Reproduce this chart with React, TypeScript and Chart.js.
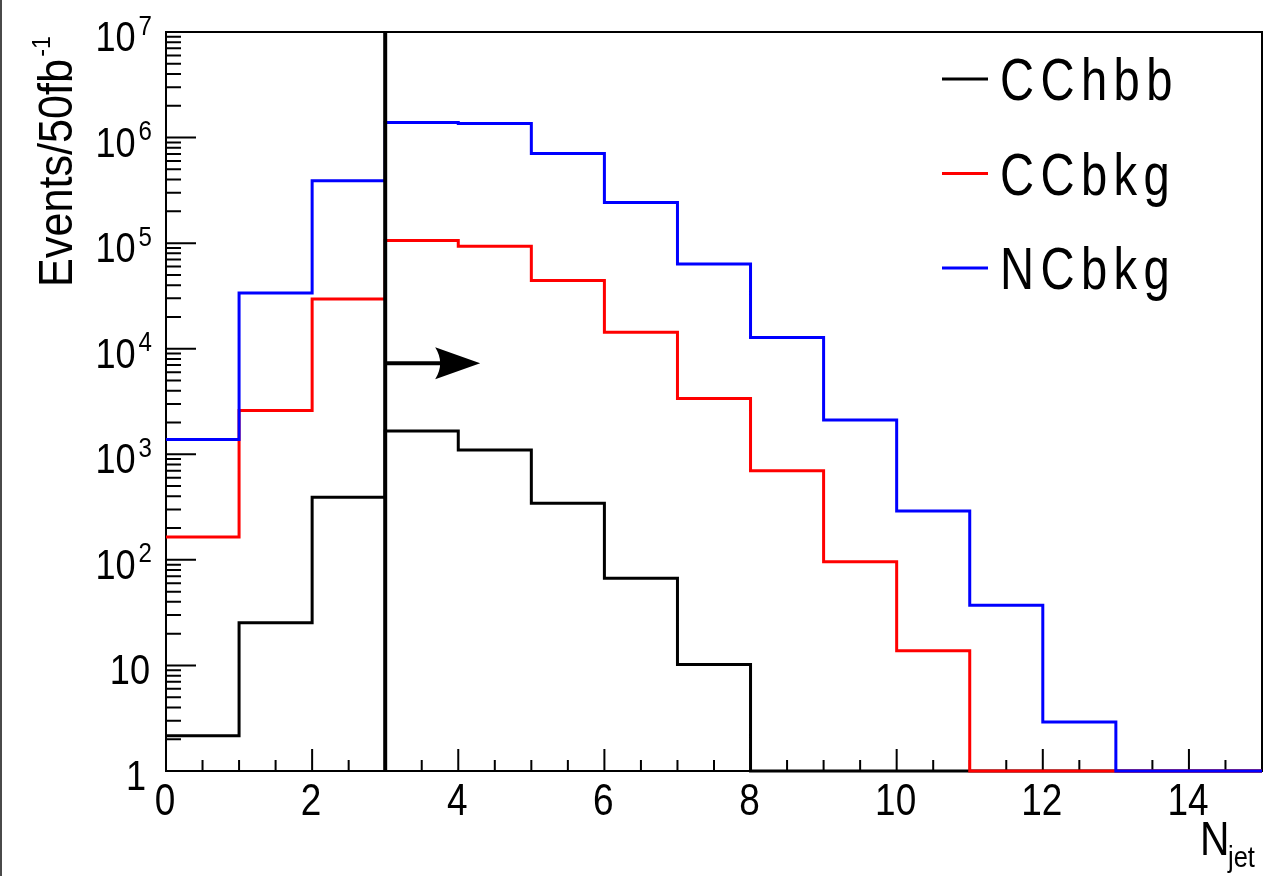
import React, { useEffect, useRef } from 'react';
import { Chart, registerables } from 'chart.js';

Chart.register(...registerables);

// ---- data ----
const binLowEdges = [0, 1, 2, 3, 4, 5, 6, 7, 8, 9, 10, 11, 12, 13, 14];
const X_MAX = 15;
const cchbb = [2.16, 25.4, 391, 1660, 1100, 343, 67, 10.2, 0, 0, 0, 0, 0, 0, 0];
const ccbkg = [165, 2605, 29500, 106000, 93700, 44300, 14300, 3380, 698, 96, 13.8, 0, 0, 0, 0];
const ncbkg = [1384, 33800, 389000, 1390000, 1360000, 707000, 243000, 63300, 12800, 2110, 290, 37.1, 2.91, 0, 0];
const seriesNames = ['CChbb', 'CCbkg', 'NCbkg'];
const seriesColors = ['#000000', '#ff0000', '#0000ff'];
const Y_MIN = 1;
const Y_MAX = 1e7;
const xMajorTicks = [0, 2, 4, 6, 8, 10, 12, 14];
const xMinorStep = 0.5;
const yDecadeExponents = [0, 1, 2, 3, 4, 5, 6, 7];
const yTitle = 'Events/50fb';
const yTitleSup = '-1';
const xTitle = 'N';
const xTitleSub = 'jet';
const CUT_X = 3;
const ARROW_Y = 7300;
const ARROW_END_X = 4.3;

const FONT = '"Liberation Sans", Arial, Helvetica, sans-serif';

function drawText(
  ctx: CanvasRenderingContext2D,
  s: string,
  x: number,
  y: number,
  size: number,
  align: 'left' | 'right' | 'center',
  sx = 0.86,
  spacing = 0
) {
  ctx.save();
  ctx.font = `${size}px ${FONT}`;
  (ctx as any).letterSpacing = `${spacing}px`;
  const w = ctx.measureText(s).width * sx;
  const x0 = align === 'left' ? x : align === 'right' ? x - w : x - w / 2;
  ctx.translate(x0, y);
  ctx.scale(sx, 1);
  ctx.textAlign = 'left';
  ctx.textBaseline = 'alphabetic';
  ctx.fillStyle = '#000';
  ctx.fillText(s, 0, 0);
  ctx.restore();
  return w;
}

const rootStyle = {
  id: 'rootStyle',
  beforeDatasetsDraw(chart: any) {
    const { ctx, chartArea: a, scales } = chart;
    const x = scales.x;
    const y = scales.y;
    ctx.save();
    // image left border
    ctx.fillStyle = '#4a4a4a';
    ctx.fillRect(0, 0, 2, chart.height);

    // frame
    ctx.strokeStyle = '#000';
    ctx.lineWidth = 2;
    ctx.strokeRect(a.left, a.top, a.right - a.left, a.bottom - a.top);

    // x ticks
    ctx.lineWidth = 2;
    ctx.beginPath();
    for (let v = 0; v <= X_MAX + 1e-9; v += xMinorStep) {
      const px = x.getPixelForValue(v);
      const major = xMajorTicks.includes(v);
      const len = major ? 22 : 11;
      ctx.moveTo(px, a.bottom);
      ctx.lineTo(px, a.bottom - len);
    }
    // y ticks
    for (const e of yDecadeExponents) {
      for (let m = 1; m <= 9; m++) {
        const v = m * Math.pow(10, e);
        if (v > Y_MAX * 1.0001) break;
        const py = y.getPixelForValue(v);
        const len = m === 1 ? 30 : 15;
        ctx.moveTo(a.left, py);
        ctx.lineTo(a.left + len, py);
      }
    }
    ctx.stroke();

    // x labels
    for (const v of xMajorTicks) {
      const px = x.getPixelForValue(v);
      drawText(ctx, String(v), px - 1, a.bottom + 44, 44, 'center', 0.84);
    }
    // y labels
    for (const e of yDecadeExponents) {
      const py = y.getPixelForValue(Math.pow(10, e));
      if (e === 0) {
        drawText(ctx, '1', 146, py + 19, 42, 'right', 0.86);
      } else if (e === 1) {
        drawText(ctx, '10', 150, py + 19, 42, 'right', 0.86);
      } else {
        ctx.save();
        ctx.font = `28px ${FONT}`;
        const supW = ctx.measureText(String(e)).width * 0.86;
        ctx.restore();
        const supX = 152 - supW;
        drawText(ctx, String(e), supX, py + 2.5, 28, 'left', 0.86);
        drawText(ctx, '10', supX - 3, py + 19, 42, 'right', 0.86);
      }
    }

    // x title
    drawText(ctx, xTitle, 1200, 855, 48, 'left', 0.85);
    drawText(ctx, xTitleSub, 1228, 867, 30, 'left', 0.85);

    // y title (rotated)
    ctx.save();
    ctx.translate(72, 287);
    ctx.rotate(-Math.PI / 2);
    const w = drawText(ctx, yTitle, 0, 0, 48, 'left', 0.9);
    drawText(ctx, yTitleSup, w + 2, -22, 26, 'left', 0.9);
    ctx.restore();

    ctx.restore();
  },
  afterDatasetsDraw(chart: any) {
    const { ctx, chartArea: a, scales } = chart;
    const x = scales.x;
    const y = scales.y;
    ctx.save();
    // cut line
    const cx = x.getPixelForValue(CUT_X);
    ctx.strokeStyle = '#000';
    ctx.lineWidth = 4;
    ctx.beginPath();
    ctx.moveTo(cx, a.top);
    ctx.lineTo(cx, a.bottom);
    ctx.stroke();

    // arrow
    const ay = y.getPixelForValue(ARROW_Y);
    const tip = x.getPixelForValue(ARROW_END_X);
    const headLen = 45;
    const halfH = 16;
    ctx.lineWidth = 4;
    ctx.beginPath();
    ctx.moveTo(cx, ay);
    ctx.lineTo(tip - headLen + 8, ay);
    ctx.stroke();
    ctx.fillStyle = '#000';
    ctx.beginPath();
    ctx.moveTo(tip, ay);
    ctx.lineTo(tip - headLen, ay - halfH);
    ctx.quadraticCurveTo(tip - headLen + 10, ay, tip - headLen, ay + halfH);
    ctx.closePath();
    ctx.fill();

    // legend
    chart.data.datasets.forEach((ds: any, i: number) => {
      const ly = 79 + 94.5 * i;
      ctx.strokeStyle = ds.borderColor;
      ctx.lineWidth = 3;
      ctx.beginPath();
      ctx.moveTo(942, ly);
      ctx.lineTo(988, ly);
      ctx.stroke();
      drawText(ctx, ds.label, 1000, ly + 21, 59, 'left', 0.8, 8);
    });
    ctx.restore();
  },
};

function histPoints(vals: number[]) {
  const pts = binLowEdges.map((e, i) => ({ x: e, y: vals[i] > 0 ? vals[i] : Y_MIN }));
  const last = vals[vals.length - 1];
  pts.push({ x: X_MAX, y: last > 0 ? last : Y_MIN });
  return pts;
}

export default function App() {
  const ref = useRef<HTMLCanvasElement>(null);
  useEffect(() => {
    const all = [cchbb, ccbkg, ncbkg];
    const chart = new Chart(ref.current as HTMLCanvasElement, {
      type: 'line',
      data: {
        datasets: all.map((vals, i) => ({
          label: seriesNames[i],
          data: histPoints(vals),
          borderColor: seriesColors[i],
          backgroundColor: seriesColors[i],
          borderWidth: 3,
          pointRadius: 0,
          pointHoverRadius: 0,
          fill: false,
          stepped: true,
          tension: 0,
          borderJoinStyle: 'miter',
          clip: 4,
          order: 2 - i,
        })) as any,
      },
      options: {
        animation: false,
        responsive: false,
        devicePixelRatio: 1,
        events: [],
        layout: { padding: { left: 166, right: 3, top: 32, bottom: 105 } },
        plugins: {
          legend: { display: false },
          tooltip: { enabled: false },
          title: { display: false },
        },
        scales: {
          x: { type: 'linear', min: 0, max: X_MAX, display: false },
          y: { type: 'logarithmic', min: Y_MIN, max: Y_MAX, display: false },
        },
      },
      plugins: [rootStyle as any],
    });
    return () => chart.destroy();
  }, []);
  return (
    <div style={{ position: 'fixed', left: 0, top: 0, width: 1265, height: 876, background: '#fff' }}>
      <canvas ref={ref} width={1265} height={876} style={{ display: 'block', width: 1265, height: 876 }} />
    </div>
  );
}
